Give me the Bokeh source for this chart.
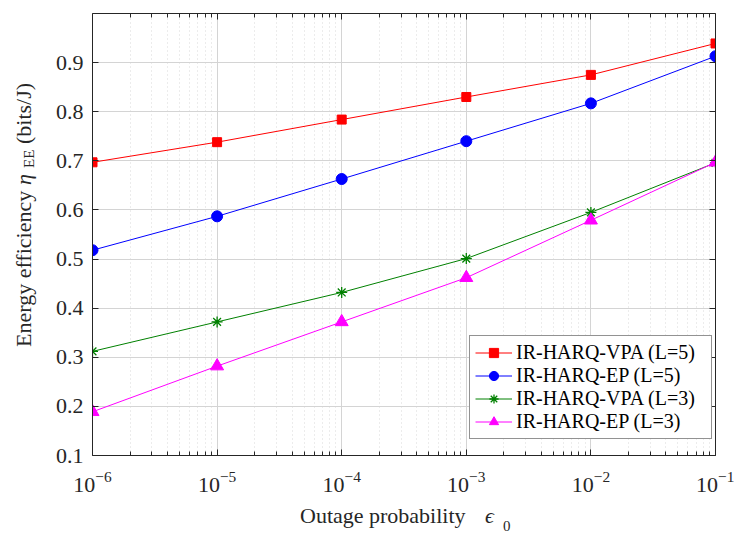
from bokeh.plotting import figure
from bokeh.layouts import row, column
from bokeh.models import (Range1d, FixedTicker, LogAxis, LinearAxis, Legend,
                          LegendItem, Div, CustomJSTickFormatter)
from bokeh.embed import file_html
from bokeh.resources import INLINE

# Outage probability (x) and energy efficiency (bits/J) per scheme
outage = [1e-6, 1e-5, 1e-4, 1e-3, 1e-2, 1e-1]
vpa_l5 = [0.697, 0.738, 0.784, 0.830, 0.875, 0.939]
ep_l5 = [0.518, 0.587, 0.663, 0.740, 0.817, 0.913]
vpa_l3 = [0.312, 0.372, 0.432, 0.501, 0.595, 0.696]
ep_l3 = [0.189, 0.282, 0.372, 0.462, 0.579, 0.697]

series_names = ["IR-HARQ-VPA (L=5)", "IR-HARQ-EP (L=5)",
                "IR-HARQ-VPA (L=3)", "IR-HARQ-EP (L=3)"]
y_ticks = [0.1, 0.2, 0.3, 0.4, 0.5, 0.6, 0.7, 0.8, 0.9]

FONT = "Liberation Serif"
AX = "#262626"
W, H = 734, 534
YT_W = 50          # width of the y-title strip
P_H = 505          # height of the plot canvas
XT_H = H - P_H     # height of the x-title strip

p = figure(width=W - YT_W, height=P_H, x_axis_type="log",
           x_range=Range1d(1e-6, 1e-1), y_range=Range1d(0.1, 1.0),
           output_backend="svg", toolbar_location=None,
           min_border_left=92 - YT_W, min_border_right=19,
           min_border_top=13, min_border_bottom=P_H - 455,
           margin=0)
p.outline_line_color = None
p.background_fill_color = "white"
p.border_fill_color = "white"

major_x = outage
minor_x = [k * 10.0 ** e for e in range(-6, -1) for k in range(2, 10)]
x_ticker = FixedTicker(ticks=major_x, minor_ticks=minor_x)
y_ticker = FixedTicker(ticks=y_ticks)

p.xaxis.ticker = x_ticker
p.yaxis.ticker = y_ticker


def style_axis(ax):
    ax.axis_line_color = AX
    ax.axis_line_width = 1
    ax.major_tick_line_color = AX
    ax.minor_tick_line_color = AX
    ax.major_tick_in = 6
    ax.major_tick_out = 0
    ax.minor_tick_in = 4
    ax.minor_tick_out = 0
    ax.major_label_text_font = FONT
    ax.major_label_text_font_size = "22px"
    ax.major_label_text_color = AX


style_axis(p.xaxis[0])
style_axis(p.yaxis[0])
p.yaxis.minor_tick_line_color = None
p.xaxis.major_label_standoff = 16
p.yaxis.major_label_standoff = 9

# box frame: unlabeled axes on the top and right edges
blank = CustomJSTickFormatter(code="return ''")
top = LogAxis(ticker=x_ticker, formatter=blank)
style_axis(top)
top.major_label_standoff = 0
p.add_layout(top, "above")
right = LinearAxis(ticker=y_ticker, formatter=blank)
style_axis(right)
right.major_label_standoff = 0
right.minor_tick_line_color = None
p.add_layout(right, "right")

# grid: solid major lines, dotted minor lines on the log axis
p.xgrid.grid_line_color = "#d4d4d4"
p.ygrid.grid_line_color = "#d4d4d4"
p.xgrid.grid_line_width = 1
p.ygrid.grid_line_width = 1
p.xgrid.minor_grid_line_color = "#d8d8d8"
p.xgrid.minor_grid_line_dash = "1 3"

styles = [
    (vpa_l5, "#ff0000", "square", 9),
    (ep_l5, "#0000ff", "circle", 11),
    (vpa_l3, "#008000", "asterisk", 11),
    (ep_l3, "#ff00ff", "triangle", 13),
]

items = []
for name, (vals, color, marker, size) in zip(series_names, styles):
    ln = p.line(outage, vals, line_color=color, line_width=1)
    kw = dict(marker=marker, size=size, line_color=color)
    if marker == "asterisk":
        kw["line_width"] = 1.3
    else:
        kw["fill_color"] = color
    sc = p.scatter(outage, vals, **kw)
    items.append(LegendItem(label=name, renderers=[ln, sc]))

legend = Legend(items=items, location=(377, 16),
                label_text_font=FONT, label_text_font_size="20px",
                label_text_color="#000000",
                glyph_width=37, glyph_height=23, label_height=23,
                label_width=190, label_standoff=4, spacing=0,
                padding=5, margin=0,
                border_line_color=AX, border_line_width=1,
                background_fill_color="white", background_fill_alpha=1)
p.add_layout(legend, "center")


# axis titles with italic symbols and subscripts, set as HTML text
def span(text, left, top, size=22, italic=False, rotate=False):
    css = ["position:absolute", f"left:{left}px", f"top:{top}px",
           f"font-family:'{FONT}','DejaVu Serif',serif",
           f"font-size:{size}px", f"line-height:{size}px",
           "white-space:nowrap", f"color:{AX}"]
    if italic:
        css.append("font-style:italic")
    if rotate:
        css += ["transform:rotate(-90deg)", "transform-origin:0 0"]
    return f'<span style="{";".join(css)}">{text}</span>'


def box(w, h, inner):
    return (f'<div style="position:relative;width:{w}px;height:{h}px;'
            f'overflow:visible">{inner}</div>')


y_title = box(YT_W, H, "".join([
    span("Energy efficiency", 12.6, 347, rotate=True),
    span("\u03b7", 12.6, 185, italic=True, rotate=True),
    span("EE", 22.4, 168, size=15, rotate=True),
    span("(bits/J)", 12.6, 144, rotate=True),
]))

x_title = box(W - YT_W, XT_H, "".join([
    span("Outage probability", 250, 0),
    span("\u03f5", 435, 0, italic=True),
    span("0", 453, 14.4, size=15),
]))

div_y = Div(text=y_title, width=YT_W, height=H, margin=0)
div_x = Div(text=x_title, width=W - YT_W, height=XT_H, margin=0)

layout = row(div_y, column(p, div_x, spacing=0), spacing=0)

open("out.html", "w").write(file_html(layout, INLINE))
